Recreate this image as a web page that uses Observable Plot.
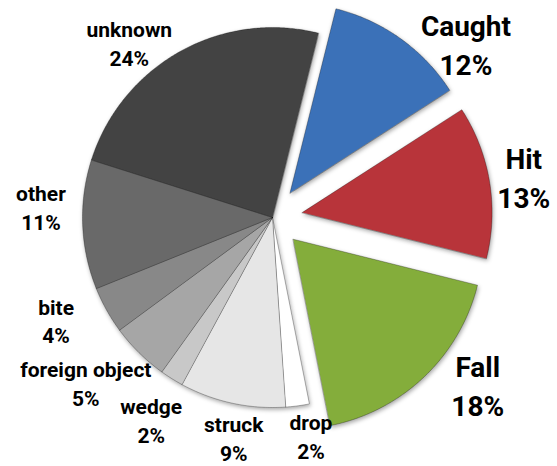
<!DOCTYPE html>
<html>
<head>
<meta charset="utf-8">
<script src="https://cdn.jsdelivr.net/npm/d3@7"></script>
<script src="https://cdn.jsdelivr.net/npm/@observablehq/plot@0.6"></script>
<style>
  html, body { margin: 0; padding: 0; background: #ffffff; }
  #chart svg { display: block; }
</style>
</head>
<body>
<div id="chart"></div>
<script>
// ---- data ----
const categories = ["Caught", "Hit", "Fall", "drop", "struck", "wedge", "foreign object", "bite", "other", "unknown"];
const percents   = [12, 13, 18, 2, 9, 2, 5, 4, 11, 24];
const exploded   = [true, true, true, false, false, false, false, false, false, false];
const colors     = ["#3b71b8", "#b8343a", "#84ad3b", "#ffffff", "#e6e6e6", "#c8c8c8", "#a6a6a6", "#888888", "#696969", "#434343"];

// ---- layout ----
const W = 557, H = 466;
const cx = 272, cy = 217, R = 190;      // pixel centre & radius
const startDeg = 14;                     // first slice angle
const explode = 30 / R;                  // explosion distance (radius units)
// label placement: angular shift from slice bisector (deg) and radius (radius units)
const labelShift  = [12.4, 0.1, -7.4, -2.4, -2.2, -1, 4, 3.9, 4.9, -10.1];
const labelRadius = [1.37, 1.34, 1.39, 1.165, 1.175, 1.24, 1.31, 1.26, 1.22, 1.19];

const pie = d3.pie().sort(null).value(d => d)
  .startAngle(startDeg * Math.PI / 180)
  .endAngle(startDeg * Math.PI / 180 + 2 * Math.PI);
const arcs = pie(percents);

// polygon vertices in radius units (y up), angles clockwise from north
const pts = [];
arcs.forEach((a, i) => {
  const name = categories[i];
  const mid = (a.startAngle + a.endAngle) / 2;
  const ox = exploded[i] ? explode * Math.sin(mid) : 0;
  const oy = exploded[i] ? explode * Math.cos(mid) : 0;
  pts.push({name, x: ox, y: oy});
  const n = Math.max(2, Math.ceil((a.endAngle - a.startAngle) / (Math.PI / 360)));
  for (let k = 0; k <= n; k++) {
    const t = a.startAngle + (a.endAngle - a.startAngle) * k / n;
    pts.push({name, x: ox + Math.sin(t), y: oy + Math.cos(t)});
  }
});

const labels = arcs.map((a, i) => {
  const mid = (a.startAngle + a.endAngle) / 2 + labelShift[i] * Math.PI / 180;
  return {
    name: categories[i],
    big: exploded[i],
    text: categories[i] + "\n" + percents[i] + "%",
    x: labelRadius[i] * Math.sin(mid),
    y: labelRadius[i] * Math.cos(mid)
  };
});

const font = "Roboto, 'Open Sans', sans-serif";

const chart = Plot.plot({
  width: W, height: H,
  margin: 0,
  x: {axis: null, domain: [-cx / R, (W - cx) / R]},
  y: {axis: null, domain: [-(H - cy) / R, cy / R]},
  color: {domain: categories, range: colors},
  marks: [
    Plot.line(pts, {x: "x", y: "y", z: "name", fill: "name", curve: "linear-closed",
      stroke: "#000", strokeOpacity: 0.28, strokeWidth: 1, strokeLinejoin: "round"}),
    Plot.text(labels.filter(d => !d.big), {x: "x", y: "y", text: "text",
      fontSize: 21, fontWeight: "bold", lineHeight: 1.36, fill: "#000", fontFamily: font}),
    Plot.text(labels.filter(d => d.big), {x: "x", y: "y", text: "text",
      fontSize: 28, fontWeight: "bold", lineHeight: 1.4, fill: "#000", fontFamily: font})
  ]
});

const svg = d3.select(chart);
svg.select("g[aria-label='line']").style("filter", "drop-shadow(1px 2px 2px rgba(0,0,0,0.35))");
document.getElementById("chart").appendChild(chart);
</script>
</body>
</html>
